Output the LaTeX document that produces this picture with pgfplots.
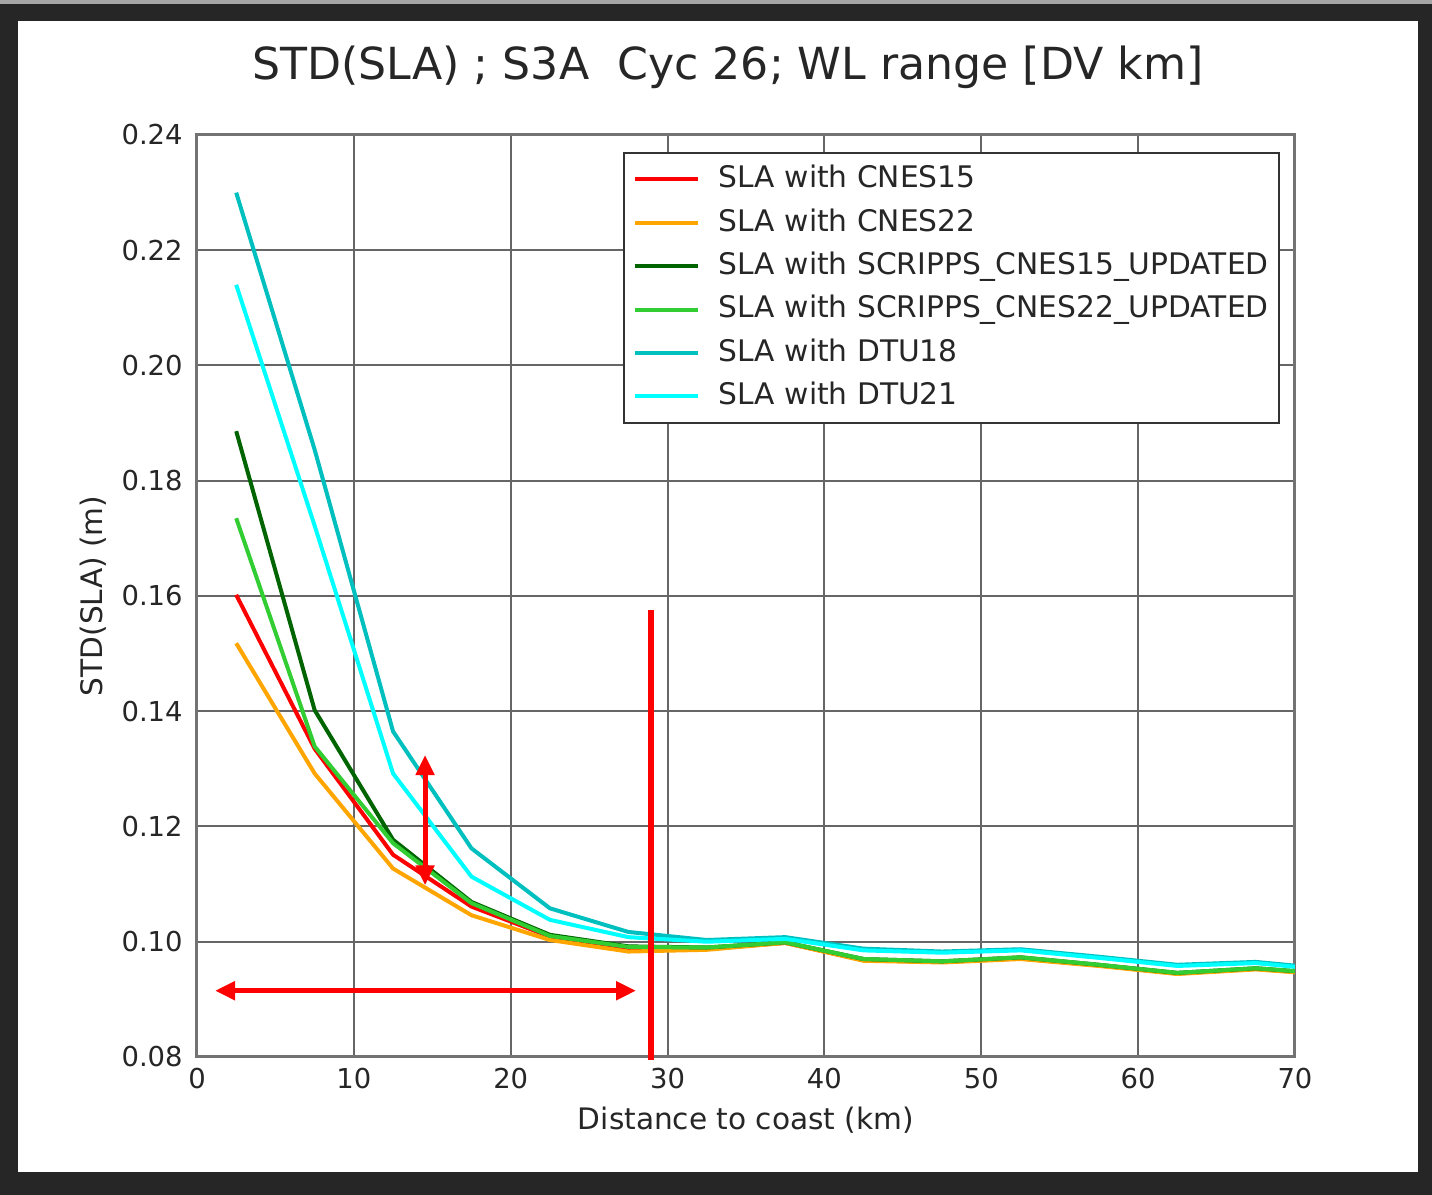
\documentclass[border=0pt]{standalone}
\usepackage{fontspec}
\setmainfont{DejaVu Sans}
\usepackage{pgfplots}
\pgfplotsset{compat=1.18}
\usetikzlibrary{arrows.meta}

\definecolor{framegray}{HTML}{262626}
\definecolor{txt}{HTML}{262626}
\definecolor{cnesA}{HTML}{FF0000}
\definecolor{cnesB}{HTML}{FFA500}
\definecolor{scrA}{HTML}{006400}
\definecolor{scrB}{HTML}{32CD32}
\definecolor{dtuA}{HTML}{00BFBF}
\definecolor{dtuB}{HTML}{00FFFF}

% distance to coast (km) vs STD(SLA) (m), one column per model
\pgfplotstableread{
x     cnes15  cnes22  scr15   scr22   dtu18   dtu21
2.5   0.1602  0.1518  0.1886  0.1735  0.2300  0.2140
7.5   0.1335  0.1292  0.1402  0.1339  0.1854  0.1722
12.5  0.1151  0.1127  0.1177  0.1171  0.1365  0.1292
17.5  0.1061  0.1046  0.1069  0.1067  0.1162  0.1113
22.5  0.1009  0.1003  0.1012  0.1010  0.1058  0.1038
27.5  0.0987  0.0983  0.0992  0.0991  0.1017  0.1008
32.5  0.0988  0.0986  0.0990  0.0990  0.1003  0.1000
37.5  0.0998  0.0998  0.0999  0.0999  0.1008  0.1005
42.5  0.0968  0.0967  0.0970  0.0970  0.0988  0.0985
47.5  0.0965  0.0964  0.0966  0.0966  0.0983  0.0981
52.5  0.0971  0.0970  0.0973  0.0973  0.0987  0.0985
57.5  0.0959  0.0958  0.0960  0.0960  0.0974  0.0972
62.5  0.0945  0.0944  0.0946  0.0946  0.0960  0.0958
67.5  0.0953  0.0952  0.0954  0.0954  0.0965  0.0963
72.5  0.0943  0.0942  0.0944  0.0944  0.0952  0.0950
}\stdsla

\begin{document}
\begin{tikzpicture}
% screenshot frame
\fill[framegray] (-98.5pt,-69pt) rectangle (617.5pt,528.5pt);
\fill[gray!70] (-98.5pt,526.5pt) rectangle (617.5pt,528.5pt);
\fill[white] (-89.5pt,-57.5pt) rectangle (610.5pt,518pt);
\node[font=\fontsize{22.1}{26}\selectfont, text=txt, anchor=base] at (265.5pt,488.5pt)
  {STD(SLA) ; S3A\ \ Cyc 26; WL range [DV km]};

\begin{axis}[
    width=549pt, height=461pt, scale only axis,
    xmin=0, xmax=70, ymin=0.08, ymax=0.24,
    xtick={0,10,20,30,40,50,60,70},
    ytick={0.08,0.10,0.12,0.14,0.16,0.18,0.20,0.22,0.24},
    scaled y ticks=false,
    grid=major,
    grid style={black!60, line width=1pt},
    axis line style={black!55, line width=1.5pt},
    major tick length=0pt,
    /pgf/number format/assume math mode=true,
    tick label style={font=\fontsize{13.7}{16}\selectfont, text=txt},
    yticklabel style={/pgf/number format/fixed, /pgf/number format/fixed zerofill,
        /pgf/number format/precision=2, anchor=east, inner sep=0pt, xshift=-7pt},
    xticklabel style={anchor=north, inner sep=0pt, yshift=-5.5pt},
    xlabel={Distance to coast (km)},
    ylabel={STD(SLA) (m)},
    label style={font=\fontsize{14.8}{17}\selectfont, text=txt},
    xlabel style={at={(axis description cs:0.5,-0.0683)}, anchor=center},
    ylabel style={at={(axis description cs:-0.0947,0.5)}, anchor=center},
    clip mode=individual,
    legend cell align=left,
    legend image code/.code={\path (-2.5pt,0pt);
        \draw[#1, line width=2pt] (0pt,0pt) -- (31.5pt,0pt);},
    legend style={at={(0.9863,0.9816)}, anchor=north east, draw=black!80,
        line width=1.2pt, fill=white, text=txt,
        font=\fontsize{14.85}{17}\selectfont,
        inner xsep=2pt, inner ysep=6.5pt, row sep=8.4pt, column sep=6.5pt,
        nodes={inner xsep=3pt, inner ysep=0pt, text height=10.8pt, text depth=2.5pt}},
    every axis plot/.append style={line width=2pt},
]
\addplot[cnesA] table[x=x, y=cnes15] {\stdsla};
\addlegendentry{SLA with CNES15}
\addplot[cnesB] table[x=x, y=cnes22] {\stdsla};
\addlegendentry{SLA with CNES22}
\addplot[scrA] table[x=x, y=scr15] {\stdsla};
\addlegendentry{SLA with SCRIPPS\_CNES15\_UPDATED}
\addplot[scrB] table[x=x, y=scr22] {\stdsla};
\addlegendentry{SLA with SCRIPPS\_CNES22\_UPDATED}
\addplot[dtuA] table[x=x, y=dtu18] {\stdsla};
\addlegendentry{SLA with DTU18}
\addplot[dtuB] table[x=x, y=dtu21] {\stdsla};
\addlegendentry{SLA with DTU21}

% red annotations added on top of the figure
\draw[red, line width=3pt] (axis cs:28.94,0.1576) -- (axis cs:28.94,0.0795);
\draw[red, line width=2.5pt, {Triangle[length=10pt,width=9pt]}-{Triangle[length=10pt,width=9pt]}]
  (axis cs:1.15,0.0915) -- (axis cs:27.99,0.0915);
\draw[red, line width=2.5pt, {Triangle[length=10pt,width=9pt]}-{Triangle[length=10pt,width=9pt]}]
  (axis cs:14.54,0.1324) -- (axis cs:14.54,0.1098);
\end{axis}
\end{tikzpicture}
\end{document}
